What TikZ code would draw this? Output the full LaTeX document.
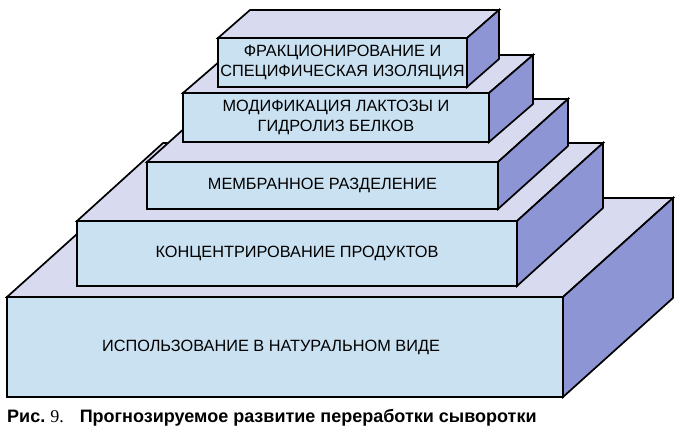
\documentclass[tikz,border=0pt]{standalone}
\usepackage{fontspec}
\setmainfont{Liberation Sans}
\newfontfamily\capserif{Liberation Serif}
\usetikzlibrary{positioning}
\definecolor{frontblue}{RGB}{202,225,242}
\definecolor{toplilac}{RGB}{216,219,240}
\definecolor{sideblue}{RGB}{142,149,212}

\begin{document}
\begin{tikzpicture}[x=1pt,y=-1pt,
      front/.style={draw,fill=frontblue,line width=1.7pt,outer sep=0pt,inner sep=0pt,
                    align=center,font=\fontsize{16.3}{19.5}\selectfont},
      topf/.style={draw,fill=toplilac,line width=1.7pt},
      sidef/.style={draw,fill=sideblue,line width=1.7pt}]
    \useasboundingbox (0,0) rectangle (688,437);
    \node[front,minimum width=556pt,minimum height=100pt] (nat) at (285,347) {ИСПОЛЬЗОВАНИЕ В НАТУРАЛЬНОМ ВИДЕ\hspace*{28pt}};
    \filldraw[topf] (nat.north west) -- ++(110,-99) -- ++(556,0) -- (nat.north east) -- cycle;
    \filldraw[sidef] (nat.north east) -- ++(110,-99) -- ++(0,100) -- (nat.south east) -- cycle;
    \node[front,minimum width=440pt,minimum height=65pt] (conc) at (297,253.5) {КОНЦЕНТРИРОВАНИЕ ПРОДУКТОВ};
    \filldraw[topf] (conc.north west) -- ++(86,-78) -- ++(440,0) -- (conc.north east) -- cycle;
    \filldraw[sidef] (conc.north east) -- ++(86,-78) -- ++(0,65) -- (conc.south east) -- cycle;
    \node[front,minimum width=351pt,minimum height=47pt] (memb) at (322.5,185.5) {МЕМБРАННОЕ РАЗДЕЛЕНИЕ};
    \filldraw[topf] (memb.north west) -- ++(70,-63) -- ++(351,0) -- (memb.north east) -- cycle;
    \filldraw[sidef] (memb.north east) -- ++(70,-63) -- ++(0,47) -- (memb.south east) -- cycle;
    \node[front,minimum width=306pt,minimum height=49pt] (modif) at (336,117.5) {МОДИФИКАЦИЯ ЛАКТОЗЫ И\\ГИДРОЛИЗ БЕЛКОВ};
    \filldraw[topf] (modif.north west) -- ++(44,-38) -- ++(306,0) -- (modif.north east) -- cycle;
    \filldraw[sidef] (modif.north east) -- ++(44,-38) -- ++(0,49) -- (modif.south east) -- cycle;
    \node[front,minimum width=249pt,minimum height=49pt] (fract) at (342.5,62.5) {ФРАКЦИОНИРОВАНИЕ И\\СПЕЦИФИЧЕСКАЯ ИЗОЛЯЦИЯ};
    \filldraw[topf] (fract.north west) -- ++(32,-28) -- ++(249,0) -- (fract.north east) -- cycle;
    \filldraw[sidef] (fract.north east) -- ++(32,-28) -- ++(0,49) -- (fract.south east) -- cycle;
    \node[anchor=west,inner sep=0pt,font=\bfseries\fontsize{18}{20}\selectfont] (cap) at (7,418)
      {Рис.~{\capserif\mdseries 9.}\hspace{16pt}Прогнозируемое развитие переработки сыворотки};
\end{tikzpicture}
\end{document}
